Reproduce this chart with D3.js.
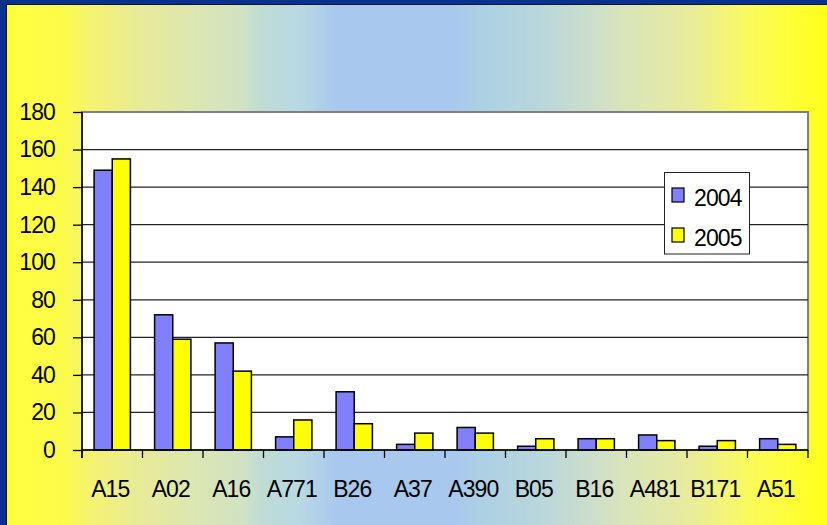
<!DOCTYPE html>
<html>
<head>
<meta charset="utf-8">
<script src="https://cdn.jsdelivr.net/npm/d3@7"></script>
<style>
  html, body { margin: 0; padding: 0; background: #0a3090; }
  svg { display: block; font-family: "Liberation Sans", Arial, sans-serif; }
</style>
</head>
<body>
<svg id="chart" width="827" height="525"></svg>
<script>
// Categories and yearly counts
const categories = ["A15", "A02", "A16", "A771", "B26", "A37", "A390", "B05", "B16", "A481", "B171", "A51"];
const series = ["2004", "2005"];
const values2004 = [149, 72, 57, 7, 31, 3, 12, 2, 6, 8, 2, 6];
const values2005 = [155, 59, 42, 16, 14, 9, 9, 6, 6, 5, 5, 3];
const yTicks = [0, 20, 40, 60, 80, 100, 120, 140, 160, 180];
const seriesColors = ["#8080ff", "#ffff00"];

const W = 827, H = 525;
const FONT = 23, TRACK = -0.9;
const svg = d3.select("#chart");

// Slide background: banded yellow-blue-yellow horizontal wash
const defs = svg.append("defs");
const bgStops = [
  [0, "#ffff1a"], [13, "#ffff40"], [60, "#fdfb48"], [95, "#f4f274"], [140, "#e8eb98"],
  [200, "#dae6b4"], [243, "#d0e2c4"], [260, "#c0dcd4"], [300, "#b8d8e4"], [338, "#a8c8ee"],
  [454, "#a8c8ee"], [480, "#acd0e4"], [538, "#b8d6dc"], [580, "#c8dcd0"],
  [622, "#d8e4bc"], [690, "#e8ec9c"], [749, "#fafa5c"], [800, "#ffff30"], [827, "#ffff1a"]
];
const grad = defs.append("linearGradient")
  .attr("id", "bg").attr("gradientUnits", "userSpaceOnUse")
  .attr("x1", 0).attr("x2", W).attr("y1", 0).attr("y2", 0);
grad.selectAll("stop").data(bgStops).join("stop")
  .attr("offset", d => d[0] / W)
  .attr("stop-color", d => d[1]);

// frame: blue strip top and left with a dark edge
svg.append("rect").attr("x", 0).attr("y", 0).attr("width", W).attr("height", H).attr("fill", "#0a3090");
svg.append("rect").attr("x", 6).attr("y", 4).attr("width", W - 6).attr("height", H - 4).attr("fill", "#101820");
svg.append("rect").attr("x", 7).attr("y", 5).attr("width", W - 7).attr("height", H - 5).attr("fill", "url(#bg)");

// Plot area
const plot = { left: 82, right: 808, top: 112, bottom: 450 };

const x0 = d3.scaleBand().domain(categories)
  .range([plot.left, plot.right]).paddingInner(0.4).paddingOuter(0.2);
const x1 = d3.scaleBand().domain(series).range([0, x0.bandwidth()]);
const y = d3.scaleLinear().domain([0, 180]).range([plot.bottom, plot.top]);

svg.append("rect")
  .attr("x", plot.left).attr("y", plot.top)
  .attr("width", plot.right - plot.left).attr("height", plot.bottom - plot.top)
  .attr("fill", "#ffffff").attr("stroke", "#808080").attr("stroke-width", 2);

// gridlines
svg.append("g").selectAll("line").data(yTicks.filter(t => t > 0 && t < 180)).join("line")
  .attr("x1", plot.left).attr("x2", plot.right)
  .attr("y1", d => y(d)).attr("y2", d => y(d))
  .attr("stroke", "#222").attr("stroke-width", 1.3);

// bars
const rows = categories.map((c, i) => ({ cat: c, vals: [values2004[i], values2005[i]] }));
const groups = svg.append("g").selectAll("g").data(rows).join("g")
  .attr("transform", d => `translate(${x0(d.cat)},0)`);
groups.selectAll("rect").data(d => d.vals.map((v, j) => ({ s: series[j], v, j }))).join("rect")
  .attr("x", d => x1(d.s))
  .attr("y", d => y(d.v))
  .attr("width", x1.bandwidth())
  .attr("height", d => y(0) - y(d.v))
  .attr("fill", d => seriesColors[d.j])
  .attr("stroke", "#000").attr("stroke-width", 1.5);

// y axis
const yAxis = d3.axisLeft(y).tickValues(yTicks).tickSize(9).tickPadding(18);
const gy = svg.append("g").attr("transform", `translate(${plot.left},0)`).call(yAxis);
gy.select(".domain").attr("stroke", "#000").attr("stroke-width", 1.5)
  .attr("d", `M0,${plot.top}V${plot.bottom + 8}`);
gy.selectAll(".tick line").attr("stroke", "#000").attr("stroke-width", 1.3);
gy.selectAll(".tick text").attr("font-size", FONT).attr("fill", "#000")
  .attr("letter-spacing", TRACK)
  .attr("font-family", "Liberation Sans, Arial, sans-serif");

// x axis: ticks on category boundaries
const step = x0.step();
const boundaries = d3.range(categories.length + 1).map(i => plot.left + i * step);
const gx = svg.append("g");
gx.append("line").attr("x1", plot.left).attr("x2", plot.right)
  .attr("y1", plot.bottom).attr("y2", plot.bottom)
  .attr("stroke", "#000").attr("stroke-width", 1.5);
gx.selectAll("line.tk").data(boundaries).join("line").attr("class", "tk")
  .attr("x1", d => d).attr("x2", d => d)
  .attr("y1", plot.bottom).attr("y2", plot.bottom + 8)
  .attr("stroke", "#000").attr("stroke-width", 1.3);
gx.selectAll("text").data(categories).join("text")
  .attr("x", d => x0(d) + x0.bandwidth() / 2 - 2)
  .attr("y", 497)
  .attr("text-anchor", "middle")
  .attr("font-size", FONT)
  .attr("letter-spacing", TRACK)
  .attr("fill", "#000")
  .text(d => d);

// legend
const lg = svg.append("g");
lg.append("rect").attr("x", 664.5).attr("y", 172.5).attr("width", 85).attr("height", 81.5)
  .attr("fill", "#fff").attr("stroke", "#222").attr("stroke-width", 1);
const items = lg.selectAll("g").data(series).join("g")
  .attr("transform", (d, i) => `translate(0,${i * 40})`);
items.append("rect").attr("x", 672).attr("y", 188).attr("width", 12).attr("height", 14)
  .attr("fill", (d, i) => seriesColors[i]).attr("stroke", "#000").attr("stroke-width", 1.2);
items.append("text").attr("x", 694).attr("y", 205.5)
  .attr("font-size", FONT).attr("letter-spacing", TRACK).attr("fill", "#000").text(d => d);
</script>
</body>
</html>
